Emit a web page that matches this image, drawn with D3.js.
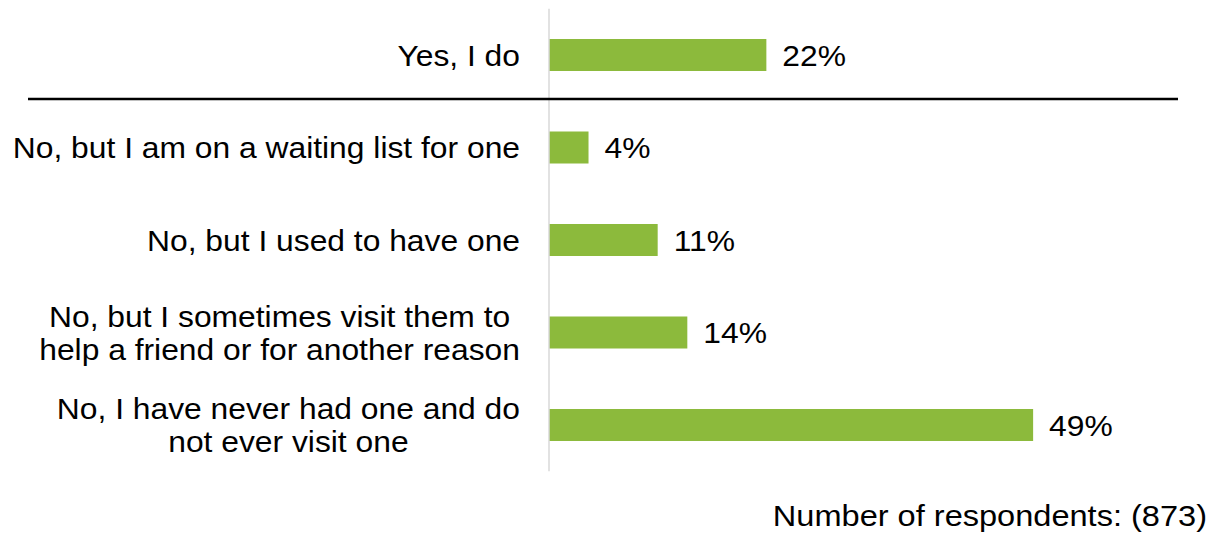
<!DOCTYPE html>
<html>
<head>
<meta charset="utf-8">
<script src="https://cdn.jsdelivr.net/npm/d3@7"></script>
<style>
  html, body { margin: 0; padding: 0; background: #ffffff; }
  svg { display: block; }
  text { font-family: "Liberation Sans", Arial, sans-serif; fill: #000; }
</style>
</head>
<body>
<svg id="chart" width="1215" height="533"></svg>
<script>
// Survey answers (one entry per line of each label)
const categories = [
  ["Yes, I do"],
  ["No, but I am on a waiting list for one"],
  ["No, but I used to have one"],
  ["No, but I sometimes visit them to", "help a friend or for another reason"],
  ["No, I have never had one and do", "not ever visit one"]
];
const shares = [0.22, 0.04, 0.11, 0.14, 0.49];
const valueLabels = ["22%", "4%", "11%", "14%", "49%"];
const footnote = "Number of respondents: (873)";

const W = 1215, H = 533;
const FS = 30;            // font size
const SX = 1.06;          // horizontal text stretch
const LINE = 33;          // line spacing for wrapped labels
const CAP = 0.358 * FS;   // offset from cap-middle to baseline

const svg = d3.select("#chart");

const keys = categories.map((c, i) => i);
const y = d3.scaleBand().domain(keys).range([8.75, 471.25]).paddingInner(0.654).paddingOuter(0.327);
const x = d3.scaleLinear().domain([0, 0.5]).range([549, 1043]);

// bars
svg.append("g").selectAll("rect")
  .data(shares)
  .join("rect")
  .attr("x", x(0))
  .attr("y", (d, i) => y(i))
  .attr("width", d => x(d) - x(0))
  .attr("height", y.bandwidth())
  .attr("fill", "#8cba3c");

// category axis line
svg.append("line")
  .attr("x1", x(0)).attr("x2", x(0))
  .attr("y1", y.range()[0]).attr("y2", y.range()[1])
  .attr("stroke", "#d9d9d9").attr("stroke-width", 1.5);

// separator under the first answer
svg.append("line")
  .attr("x1", 28).attr("x2", 1178)
  .attr("y1", 99).attr("y2", 99)
  .attr("stroke", "#000").attr("stroke-width", 2.5);

function stretchedText(g, str, px, py, anchor, sx = SX) {
  return g.append("text")
    .attr("transform", `translate(${px},${py}) scale(${sx},1)`)
    .attr("text-anchor", anchor)
    .style("font-size", FS + "px")
    .text(str);
}

// category labels: right-aligned block, lines centred within it
const labelRight = 520;
const lg = svg.append("g");
categories.forEach((lines, i) => {
  const cy = y(i) + y.bandwidth() / 2;
  const n = lines.length;
  const widths = lines.map(l => {
    const t = lg.append("text").style("font-size", FS + "px").text(l);
    const w = t.node().getComputedTextLength() * SX;
    t.remove();
    return w;
  });
  const maxW = d3.max(widths);
  const cx = labelRight - maxW / 2;
  lines.forEach((l, j) => {
    const ly = cy + (j - (n - 1) / 2) * LINE + CAP;
    if (n === 1) stretchedText(lg, l, labelRight, ly, "end");
    else stretchedText(lg, l, cx, ly, "middle");
  });
});

// value labels
const vg = svg.append("g");
shares.forEach((d, i) => {
  stretchedText(vg, valueLabels[i], x(d) + 16, y(i) + y.bandwidth() / 2 + CAP, "start");
});

// footnote
stretchedText(svg, footnote, 1207, 526, "end", 1.085);
</script>
</body>
</html>
